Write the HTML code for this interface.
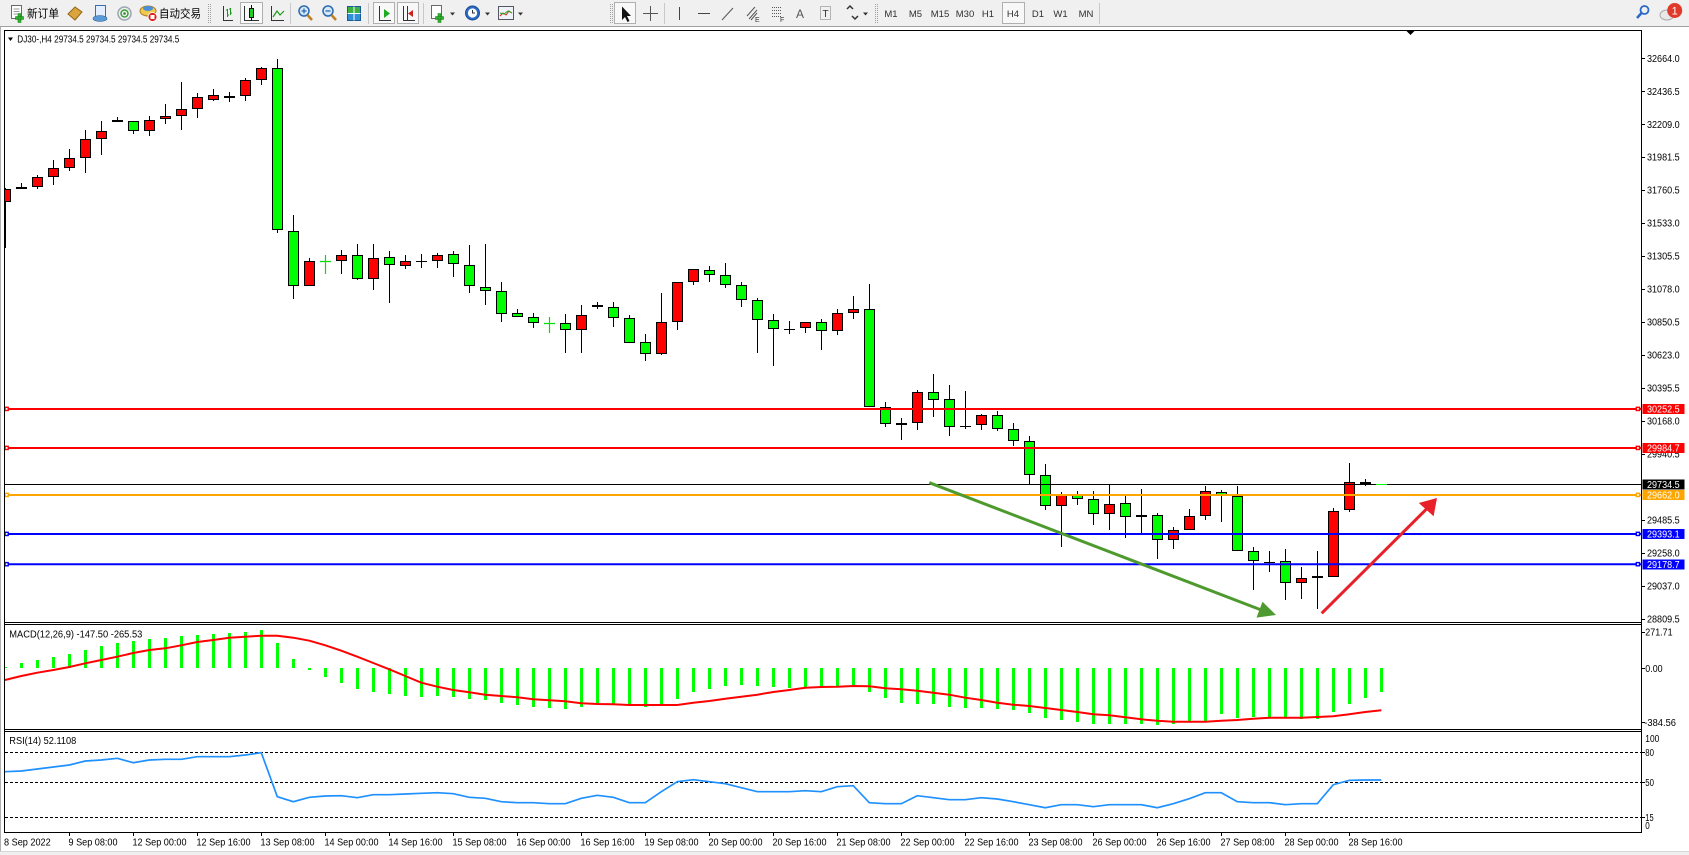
<!DOCTYPE html>
<html><head><meta charset="utf-8"><style>
html,body{margin:0;padding:0;background:#fff;}
svg{display:block;}
text{font-family:"Liberation Sans","Noto Sans CJK SC",sans-serif;}
</style></head><body>
<svg xmlns="http://www.w3.org/2000/svg" width="1689" height="855" viewBox="0 0 1689 855">
<rect x="0" y="0" width="1689" height="855" fill="#fff"/>
<!-- toolbar -->
<rect x="0" y="0" width="1689" height="26.5" fill="#f0f0f0"/>
<line x1="0" y1="26.5" x2="1689" y2="26.5" stroke="#a0a0a0"/>
<!-- new order -->
<rect x="11.5" y="5.5" width="10" height="13" fill="#fff" stroke="#6a6a6a"/>
<path d="M13.5 9h6M13.5 11.5h6M13.5 14h4" stroke="#999"/>
<path d="M15.5 16.5h8v3h-8zM18 13.5h3v9h-3z" fill="#2fb52f" stroke="#1d7d1d" stroke-width=".6"/>
<text x="27" y="17.5" font-size="11.5" textLength="32" lengthAdjust="spacingAndGlyphs" fill="#000" style="font-family:'Noto Sans CJK SC',sans-serif">新订单</text>
<polygon points="68,14 75,7 82,12 75,20" fill="#dba43c" stroke="#946418"/>
<rect x="95.5" y="5.5" width="10" height="11" fill="#e3efff" stroke="#3a6ea8"/>
<ellipse cx="100" cy="18.5" rx="7" ry="3" fill="#5b9bd5" stroke="#2d5f96" stroke-width=".6"/>
<circle cx="124.5" cy="13.5" r="6.5" fill="none" stroke="#9aa5b0" stroke-width="1.5"/>
<circle cx="124.5" cy="13.5" r="3.5" fill="none" stroke="#3aa03a" stroke-width="1.5"/>
<circle cx="124.5" cy="13.5" r="1.3" fill="#2a8a2a"/>
<ellipse cx="148" cy="11" rx="8" ry="5" fill="#f2c94c" stroke="#a6802a"/>
<ellipse cx="148" cy="8.5" rx="5" ry="2.5" fill="#4a8fd8"/>
<circle cx="152.5" cy="17" r="4.5" fill="#e02020" stroke="#fff" stroke-width=".8"/>
<rect x="150.5" y="15" width="4" height="4" fill="#fff"/>
<text x="159" y="17.5" font-size="11.5" textLength="42" lengthAdjust="spacingAndGlyphs" fill="#000" style="font-family:'Noto Sans CJK SC',sans-serif">自动交易</text>
<line x1="208.5" y1="4" x2="208.5" y2="24" stroke="#a0a0a0" stroke-dasharray="1,1"/>
<line x1="210.5" y1="4" x2="210.5" y2="24" stroke="#a0a0a0" stroke-dasharray="1,1"/>
<path d="M223.5 6V20.5H233" stroke="#333" fill="none"/>
<path d="M227.5 9v8M226 10h1.5M227.5 15h1.5M230.5 8v7M229 9h1.5M230.5 13h1.5" stroke="#1a9a1a" fill="none"/>
<rect x="240.5" y="2.5" width="22" height="21" fill="#f8f8f8" stroke="#b0b0b0"/>
<path d="M244.5 6V20.5H259" stroke="#333" fill="none"/>
<line x1="251.5" y1="5" x2="251.5" y2="21" stroke="#111"/>
<rect x="249.5" y="8.5" width="4" height="9" fill="#22cc22" stroke="#111"/>
<path d="M271.5 6V20.5H284" stroke="#333" fill="none"/>
<path d="M273 17L277 11L280 15L284 11" stroke="#1a9a1a" fill="none" stroke-width="1.2"/>
<line x1="290.5" y1="3" x2="290.5" y2="24" stroke="#c8c8c8"/>
<circle cx="304" cy="11" r="5" fill="#d6e8fa" stroke="#2a6ab0" stroke-width="1.5"/>
<path d="M301.5 11h5M304 8.5v5" stroke="#2a6ab0" stroke-width="1.3"/>
<line x1="307.5" y1="15" x2="312" y2="20" stroke="#c08020" stroke-width="2.5"/>
<circle cx="328" cy="11" r="5" fill="#d6e8fa" stroke="#2a6ab0" stroke-width="1.5"/>
<path d="M325.5 11h5" stroke="#2a6ab0" stroke-width="1.3"/>
<line x1="331.5" y1="15" x2="336" y2="20" stroke="#c08020" stroke-width="2.5"/>
<rect x="347.5" y="6.5" width="13" height="14" fill="#2f8fd8" stroke="#1a5a9a"/>
<path d="M348 7h12v6h-12z" fill="#3cb043"/>
<path d="M354 6.5v14M347.5 13.5h13" stroke="#fff"/>
<line x1="368.5" y1="3" x2="368.5" y2="24" stroke="#c8c8c8"/>
<rect x="373.5" y="2.5" width="21" height="21" fill="#f8f8f8" stroke="#b0b0b0"/>
<path d="M379.5 6V20.5H391" stroke="#333" fill="none"/>
<polygon points="384,9 384,18 390,13.5" fill="#22aa22"/>
<rect x="397.5" y="2.5" width="21" height="21" fill="#f8f8f8" stroke="#b0b0b0"/>
<path d="M403.5 6V20.5H415M407.5 6V20" stroke="#333" fill="none"/>
<polygon points="413,10 408,13.5 413,17" fill="#cc2222"/>
<line x1="423.5" y1="3" x2="423.5" y2="24" stroke="#c8c8c8"/>
<rect x="431.5" y="5.5" width="10" height="13" fill="#fff" stroke="#6a6a6a"/>
<path d="M435.5 16.5h8v3h-8zM438 13.5h3v9h-3z" fill="#2fb52f" stroke="#1d7d1d" stroke-width=".6"/>
<polygon points="450,12.5 455,12.5 452.5,15.5" fill="#333"/>
<circle cx="472.5" cy="13" r="7" fill="#2b6cc4" stroke="#1a4a90"/>
<circle cx="472.5" cy="13" r="4.6" fill="#fff"/>
<path d="M472.5 10v3h2.5" stroke="#333" fill="none"/>
<polygon points="485,12.5 490,12.5 487.5,15.5" fill="#333"/>
<rect x="498.5" y="6.5" width="15" height="13" fill="#eef2fa" stroke="#556"/>
<path d="M500 16l3-3 3 2 3-4 3 2" stroke="#d22" fill="none"/>
<path d="M500 13l4 1 4-3 4 2" stroke="#2a2" fill="none"/>
<polygon points="518,12.5 523,12.5 520.5,15.5" fill="#333"/>
<line x1="610.5" y1="4" x2="610.5" y2="24" stroke="#a0a0a0" stroke-dasharray="1,1"/>
<line x1="612.5" y1="4" x2="612.5" y2="24" stroke="#a0a0a0" stroke-dasharray="1,1"/>
<rect x="614.5" y="2.5" width="21" height="21" fill="#f8f8f8" stroke="#b0b0b0"/>
<polygon points="622,6.5 622,20 625,17 627.5,22 629.5,21 627,16 631,16" fill="#111"/>
<path d="M650.5 6v15M643 13.5h15" stroke="#555"/>
<line x1="664.5" y1="3" x2="664.5" y2="24" stroke="#c8c8c8"/>
<line x1="679.5" y1="7" x2="679.5" y2="20" stroke="#444"/>
<line x1="698" y1="13.5" x2="710" y2="13.5" stroke="#444"/>
<line x1="722" y1="20" x2="733" y2="8" stroke="#555"/>
<path d="M747 16l8-9M749 19l8-9M751 20l6-7" stroke="#555" fill="none"/>
<text x="755" y="22" font-size="7" fill="#333">E</text>
<path d="M772 7.5h10M772 10.5h10M772 13.5h10M772 16.5h10" stroke="#555" stroke-dasharray="1,1"/>
<text x="780" y="22" font-size="7" fill="#333">F</text>
<text x="800" y="18" font-size="12" text-anchor="middle" fill="#555">A</text>
<rect x="820.5" y="6.5" width="10" height="13" fill="none" stroke="#777" stroke-dasharray="1,1"/>
<text x="825.5" y="17" font-size="10" text-anchor="middle" fill="#333">T</text>
<path d="M847 9l3-3 3 3M852 16l3 3 3-3" stroke="#333" fill="none" stroke-width="1.5"/>
<polygon points="863,12.5 868,12.5 865.5,15.5" fill="#333"/>
<line x1="875.5" y1="4" x2="875.5" y2="24" stroke="#a0a0a0" stroke-dasharray="1,1"/>
<line x1="877.5" y1="4" x2="877.5" y2="24" stroke="#a0a0a0" stroke-dasharray="1,1"/>
<rect x="1002.5" y="2.5" width="22" height="21" fill="#f8f8f8" stroke="#b0b0b0"/>
<g font-size="9.5" fill="#303030" text-anchor="middle">
<text x="891" y="17">M1</text><text x="915.5" y="17">M5</text><text x="940" y="17">M15</text><text x="965" y="17">M30</text><text x="988" y="17">H1</text><text x="1013" y="17">H4</text><text x="1038" y="17">D1</text><text x="1060.5" y="17">W1</text><text x="1086" y="17">MN</text>
</g>
<line x1="1099.5" y1="3" x2="1099.5" y2="24" stroke="#c8c8c8"/>
<circle cx="1644.5" cy="10" r="4" fill="none" stroke="#2a6ac8" stroke-width="1.8"/>
<line x1="1641.5" y1="13" x2="1637" y2="18" stroke="#2a6ac8" stroke-width="2.5"/>
<ellipse cx="1667" cy="15" rx="7" ry="5" fill="#e8e8e8" stroke="#aaa"/>
<circle cx="1674.7" cy="10.5" r="7.5" fill="#e03a2a"/>
<text x="1674.7" y="14.5" font-size="11" text-anchor="middle" fill="#fff">1</text>

<!-- frame -->
<line x1="0.5" y1="27" x2="0.5" y2="851" stroke="#b0b0b0"/>
<rect x="0" y="851" width="1689" height="4" fill="#f0f0f0"/>
<line x1="0" y1="851.5" x2="1689" y2="851.5" stroke="#d8d8d8"/>

<defs><clipPath id="mc"><rect x="5" y="31" width="1636" height="591"/></clipPath></defs>

<!-- title -->
<polygon points="8,37.5 13,37.5 10.5,41" fill="#000"/>
<text x="17.3" y="42.3" font-size="10" textLength="162" lengthAdjust="spacingAndGlyphs" fill="#000">DJ30-,H4  29734.5 29734.5 29734.5 29734.5</text>
<polygon points="1406,30.5 1415,30.5 1410.5,35" fill="#000"/>

<g clip-path="url(#mc)">
<!-- wicks -->
<path fill="none" stroke="#000" d="M5.5 188V248M21.5 183V189M37.5 175V189M53.5 160V185M69.5 149V171M85.5 130V173M101.5 121V155M117.5 117V122M133.5 121V134M149.5 116V136M165.5 104V124M181.5 82V130M197.5 93V118M213.5 89V101M229.5 92V102M245.5 78V101M261.5 67V85M277.5 59V233M293.5 215V299M309.5 258V286M341.5 250V274M357.5 244V280M373.5 244V290M389.5 251V303M405.5 255V269M421.5 254V268M437.5 253V268M453.5 251V277M469.5 245V293M485.5 244V305M501.5 282V322M517.5 309V317M533.5 313V328M565.5 314V353M581.5 305V353M597.5 302V309M613.5 302V327M629.5 315V343M645.5 334V361M661.5 293V355M677.5 282V330M693.5 269V285M709.5 266V282M725.5 263V288M741.5 282V307M757.5 298V353M773.5 314V366M789.5 321V334M805.5 322V333M821.5 319V350M837.5 309V335M853.5 296V319M869.5 284V407M885.5 402V427M901.5 418V440M917.5 390V430M933.5 374V417M949.5 385V436M965.5 391V429M981.5 414V430M997.5 411V431M1013.5 423V446M1029.5 436V484M1045.5 464V510M1061.5 492V547M1077.5 491V505M1093.5 491V525M1109.5 484V530M1125.5 496V538M1141.5 489V533M1157.5 513V559M1173.5 527V549M1189.5 509V530M1205.5 486V520M1221.5 490V522M1237.5 486V551M1253.5 547V590M1269.5 551V572M1285.5 549V600M1301.5 567V599M1317.5 551V609M1333.5 508V577M1349.5 463V512M1365.5 479V486"/>
<!-- red bodies -->
<path fill="#ff0000" stroke="#000" d="M0.5,189.5h10v12h-10zM16.5,187.5h10v1h-10zM32.5,177.5h10v9h-10zM48.5,168.5h10v8h-10zM64.5,158.5h10v9h-10zM80.5,139.5h10v18h-10zM96.5,131.5h10v7h-10zM144.5,120.5h10v10h-10zM160.5,116.5h10v2h-10zM176.5,109.5h10v6h-10zM192.5,97.5h10v11h-10zM208.5,95.5h10v4h-10zM240.5,80.5h10v15h-10zM256.5,68.5h10v11h-10zM304.5,261.5h10v24h-10zM336.5,255.5h10v5h-10zM368.5,258.5h10v20h-10zM400.5,261.5h10v4h-10zM432.5,255.5h10v5h-10zM576.5,315.5h10v14h-10zM656.5,322.5h10v31h-10zM672.5,282.5h10v39h-10zM688.5,269.5h10v12h-10zM800.5,322.5h10v5h-10zM832.5,313.5h10v17h-10zM848.5,309.5h10v3h-10zM896.5,423.5h10v1h-10zM912.5,392.5h10v30h-10zM976.5,415.5h10v9h-10zM1056.5,495.5h10v10h-10zM1104.5,504.5h10v9h-10zM1136.5,515.5h10v1h-10zM1168.5,530.5h10v9h-10zM1184.5,516.5h10v13h-10zM1200.5,491.5h10v24h-10zM1296.5,578.5h10v4h-10zM1312.5,576.5h10v1h-10zM1328.5,511.5h10v65h-10zM1344.5,482.5h10v27h-10z"/>
<!-- green bodies -->
<path fill="#00ff00" stroke="#000" d="M128.5,121.5h10v9h-10zM272.5,68.5h10v161h-10zM288.5,231.5h10v54h-10zM352.5,255.5h10v23h-10zM384.5,257.5h10v7h-10zM448.5,254.5h10v9h-10zM464.5,265.5h10v20h-10zM480.5,287.5h10v3h-10zM496.5,291.5h10v22h-10zM512.5,313.5h10v3h-10zM528.5,317.5h10v5h-10zM560.5,323.5h10v6h-10zM592.5,305.5h10v1h-10zM608.5,307.5h10v10h-10zM624.5,318.5h10v24h-10zM640.5,342.5h10v11h-10zM704.5,270.5h10v4h-10zM720.5,275.5h10v9h-10zM736.5,285.5h10v14h-10zM752.5,300.5h10v19h-10zM768.5,320.5h10v8h-10zM816.5,322.5h10v8h-10zM864.5,309.5h10v97h-10zM880.5,407.5h10v16h-10zM928.5,392.5h10v7h-10zM944.5,399.5h10v27h-10zM992.5,415.5h10v13h-10zM1008.5,429.5h10v11h-10zM1024.5,441.5h10v33h-10zM1040.5,475.5h10v30h-10zM1072.5,495.5h10v3h-10zM1088.5,499.5h10v14h-10zM1120.5,503.5h10v13h-10zM1152.5,515.5h10v24h-10zM1216.5,492.5h10v3h-10zM1232.5,496.5h10v54h-10zM1248.5,551.5h10v9h-10zM1280.5,561.5h10v21h-10zM1360.5,482.5h10v1h-10z"/>
<!-- doji -->
<path stroke="#000" stroke-width="2" d="M112 121h11M224 97h11"/>
<path stroke="#000" d="M416 261.5h11M784 329.5h11M960 426.5h11M1264 562.5h11"/>
<path stroke="#00e000" stroke-width="1.2" d="M320 261.5h11M325.5 255V274M544 323.5h11M549.5 317V333"/>

<!-- horizontal lines -->
<line x1="5" y1="484.5" x2="1641" y2="484.5" stroke="#000"/>
<line x1="1376" y1="484.5" x2="1387" y2="484.5" stroke="#00ff00"/>
<line x1="5" y1="409" x2="1641" y2="409" stroke="#ff0000" stroke-width="2"/>
<line x1="5" y1="448" x2="1641" y2="448" stroke="#ff0000" stroke-width="2"/>
<line x1="5" y1="495" x2="1641" y2="495" stroke="#ffa500" stroke-width="2"/>
<line x1="5" y1="534" x2="1641" y2="534" stroke="#0000ff" stroke-width="2"/>
<line x1="5" y1="564.3" x2="1641" y2="564.3" stroke="#0000ff" stroke-width="2"/>
<g fill="#fff" stroke-width="1.4">
<rect x="5" y="407.3" width="3.2" height="3.2" stroke="#ff0000"/><rect x="1636.3" y="407.3" width="3.2" height="3.2" stroke="#ff0000"/>
<rect x="5" y="446.3" width="3.2" height="3.2" stroke="#ff0000"/><rect x="1636.3" y="446.3" width="3.2" height="3.2" stroke="#ff0000"/>
<rect x="5" y="493.3" width="3.2" height="3.2" stroke="#ffa500"/><rect x="1636.3" y="493.3" width="3.2" height="3.2" stroke="#ffa500"/>
<rect x="5" y="532.3" width="3.2" height="3.2" stroke="#0000ff"/><rect x="1636.3" y="532.3" width="3.2" height="3.2" stroke="#0000ff"/>
<rect x="5" y="562.6" width="3.2" height="3.2" stroke="#0000ff"/><rect x="1636.3" y="562.6" width="3.2" height="3.2" stroke="#0000ff"/>
</g>
<!-- arrows -->
<line x1="929.3" y1="482.7" x2="1260" y2="609.5" stroke="#4e9a2e" stroke-width="3"/>
<polygon points="1276,615 1262.5,601.8 1256.5,617.6" fill="#4e9a2e"/>
<line x1="1321.7" y1="613.3" x2="1427" y2="508.5" stroke="#e8202a" stroke-width="3"/>
<polygon points="1437,498 1418.8,503 1433.6,516.2" fill="#e8202a"/>
</g>

<!-- MACD histogram -->
<path fill="#00ff00" d="M4 667h3v1h-3zM20 663h3v5h-3zM36 660h3v8h-3zM52 657h3v11h-3zM68 654h3v14h-3zM84 650h3v18h-3zM100 646h3v22h-3zM116 643h3v25h-3zM132 641h3v27h-3zM148 639h3v29h-3zM164 638h3v30h-3zM180 636h3v32h-3zM196 635h3v33h-3zM212 634h3v34h-3zM228 633h3v35h-3zM244 632h3v36h-3zM260 630h3v38h-3zM276 643h3v25h-3zM292 659h3v9h-3zM308 668h3v2h-3zM324 668h3v9h-3zM340 668h3v15h-3zM356 668h3v21h-3zM372 668h3v24h-3zM388 668h3v26h-3zM404 668h3v28h-3zM420 668h3v29h-3zM436 668h3v28h-3zM452 668h3v29h-3zM468 668h3v31h-3zM484 668h3v32h-3zM500 668h3v35h-3zM516 668h3v37h-3zM532 668h3v39h-3zM548 668h3v40h-3zM564 668h3v41h-3zM580 668h3v39h-3zM596 668h3v36h-3zM612 668h3v36h-3zM628 668h3v36h-3zM644 668h3v39h-3zM660 668h3v36h-3zM676 668h3v31h-3zM692 668h3v24h-3zM708 668h3v21h-3zM724 668h3v18h-3zM740 668h3v17h-3zM756 668h3v18h-3zM772 668h3v19h-3zM788 668h3v20h-3zM804 668h3v19h-3zM820 668h3v19h-3zM836 668h3v18h-3zM852 668h3v17h-3zM868 668h3v24h-3zM884 668h3v30h-3zM900 668h3v35h-3zM916 668h3v36h-3zM932 668h3v36h-3zM948 668h3v39h-3zM964 668h3v40h-3zM980 668h3v40h-3zM996 668h3v41h-3zM1012 668h3v42h-3zM1028 668h3v45h-3zM1044 668h3v50h-3zM1060 668h3v52h-3zM1076 668h3v54h-3zM1092 668h3v56h-3zM1108 668h3v56h-3zM1124 668h3v56h-3zM1140 668h3v56h-3zM1156 668h3v57h-3zM1172 668h3v56h-3zM1188 668h3v54h-3zM1204 668h3v53h-3zM1220 668h3v46h-3zM1236 668h3v50h-3zM1252 668h3v49h-3zM1268 668h3v49h-3zM1284 668h3v50h-3zM1300 668h3v51h-3zM1316 668h3v51h-3zM1332 668h3v44h-3zM1348 668h3v36h-3zM1364 668h3v30h-3zM1380 668h3v24h-3z"/>
<polyline fill="none" stroke="#ff0000" stroke-width="2" points="5,680 21.3,676 37.3,672.7 53.3,670 69.3,667 85.3,663.3 101.3,660 117.3,656.7 133.3,653 149.3,650 165.3,648.3 181.3,645.3 197.3,642 213.3,640 229.3,637.7 245.3,636.7 261.3,635.7 277.3,635.7 293.3,637.7 309.3,640.7 325.3,645.3 341.3,650.7 357.3,656.7 373.3,663 389.3,669.3 405.3,676 421.3,682.7 437.3,686.7 453.3,690 469.3,692.3 485.3,694.7 501.3,696 517.3,697.3 533.3,699.3 549.3,700.3 565.3,701.3 581.3,703.3 597.3,704 613.3,704.3 629.3,705 645.3,705 661.3,705 677.3,705 693.3,702.7 709.3,701 725.3,698.7 741.3,696.7 757.3,694.7 773.3,692 789.3,690 805.3,687.7 821.3,687 837.3,686.7 853.3,686 869.3,686.3 885.3,688.3 901.3,689.3 917.3,690.7 933.3,692.7 949.3,694.7 965.3,697.7 981.3,700 997.3,702.7 1013.3,704.7 1029.3,706 1045.3,708 1061.3,710 1077.3,712 1093.3,714.3 1109.3,715.3 1125.3,717.3 1141.3,719.3 1157.3,720.7 1173.3,721.7 1189.3,721.7 1205.3,721.7 1221.3,720.7 1237.3,720 1253.3,718.7 1269.3,717.7 1285.3,717.7 1301.3,717.7 1317.3,717 1333.3,716.3 1349.3,714.3 1365.3,712 1381.3,710.3"/>
<text x="9.3" y="637.5" font-size="10" textLength="133" lengthAdjust="spacingAndGlyphs" fill="#000">MACD(12,26,9) -147.50 -265.53</text>

<!-- RSI -->
<g stroke="#000" stroke-dasharray="3,2">
<line x1="5" y1="752.5" x2="1641" y2="752.5"/>
<line x1="5" y1="782.5" x2="1641" y2="782.5"/>
<line x1="5" y1="817.5" x2="1641" y2="817.5"/>
</g>
<polyline fill="none" stroke="#1e90ff" stroke-width="1.7" points="5,771.7 21.3,771 37.3,769 53.3,767 69.3,765 85.3,761 101.3,760 117.3,758.3 133.3,762.7 149.3,760 165.3,759.3 181.3,759.3 197.3,756.7 213.3,756.7 229.3,756.7 245.3,755 261.3,752.7 277.3,796.7 293.3,801.7 309.3,797.3 325.3,796 341.3,795.7 357.3,797.7 373.3,794.7 389.3,794.7 405.3,794 421.3,793.3 437.3,792.7 453.3,793.7 469.3,797.3 485.3,798.3 501.3,801.7 517.3,802.7 533.3,802.7 549.3,803.7 565.3,803.7 581.3,798.3 597.3,795.3 613.3,797.3 629.3,802.7 645.3,802.7 661.3,791.7 677.3,781.7 693.3,779.7 709.3,781.7 725.3,783.7 741.3,787.7 757.3,791.7 773.3,791.7 789.3,791.7 805.3,790.7 821.3,791.7 837.3,786.7 853.3,785.7 869.3,802.7 885.3,803.7 901.3,803.7 917.3,795.7 933.3,797.7 949.3,799.7 965.3,799.7 981.3,797.7 997.3,799 1013.3,801.7 1029.3,804.7 1045.3,807.7 1061.3,804.7 1077.3,804.7 1093.3,806.7 1109.3,804.7 1125.3,804.7 1141.3,804.7 1157.3,807.7 1173.3,803.7 1189.3,798.7 1205.3,792.7 1221.3,792.7 1237.3,801.7 1253.3,802.7 1269.3,802.7 1285.3,804.7 1301.3,803.7 1317.3,803.7 1333.3,784.7 1349.3,780.3 1365.3,780 1381.3,780"/>
<text x="9.3" y="744.2" font-size="10" textLength="67" lengthAdjust="spacingAndGlyphs" fill="#000">RSI(14) 52.1108</text>

<!-- panel borders -->
<g stroke="#000" fill="none">
<line x1="4" y1="30.5" x2="1642" y2="30.5"/>
<line x1="4" y1="622.5" x2="1642" y2="622.5"/>
<line x1="4" y1="624.5" x2="1642" y2="624.5"/>
<line x1="4" y1="729.5" x2="1642" y2="729.5"/>
<line x1="4" y1="731.5" x2="1642" y2="731.5"/>
<line x1="4" y1="832.5" x2="1642" y2="832.5"/>
<line x1="4.5" y1="30" x2="4.5" y2="833"/>
<line x1="1641.5" y1="30" x2="1641.5" y2="833"/>
</g>

<!-- price axis ticks -->
<path stroke="#000" d="M1642 58.5h3M1642 91.5h3M1642 124.5h3M1642 157.5h3M1642 190.5h3M1642 223.5h3M1642 256.5h3M1642 289.5h3M1642 322.5h3M1642 355.5h3M1642 388.5h3M1642 421.5h3M1642 454.5h3M1642 520.5h3M1642 553.5h3M1642 586.5h3M1642 619.5h3M1642 632.5h3M1642 668.5h3M1642 722.5h3M1642 752.5h3M1642 782.5h3M1642 817.5h3"/>
<g font-size="10" fill="#000">
<text x="1647" y="61.8" textLength="32.7" lengthAdjust="spacingAndGlyphs">32664.0</text>
<text x="1647" y="94.8" textLength="32.7" lengthAdjust="spacingAndGlyphs">32436.5</text>
<text x="1647" y="127.8" textLength="32.7" lengthAdjust="spacingAndGlyphs">32209.0</text>
<text x="1647" y="160.7" textLength="32.7" lengthAdjust="spacingAndGlyphs">31981.5</text>
<text x="1647" y="193.7" textLength="32.7" lengthAdjust="spacingAndGlyphs">31760.5</text>
<text x="1647" y="226.7" textLength="32.7" lengthAdjust="spacingAndGlyphs">31533.0</text>
<text x="1647" y="259.7" textLength="32.7" lengthAdjust="spacingAndGlyphs">31305.5</text>
<text x="1647" y="292.7" textLength="32.7" lengthAdjust="spacingAndGlyphs">31078.0</text>
<text x="1647" y="325.6" textLength="32.7" lengthAdjust="spacingAndGlyphs">30850.5</text>
<text x="1647" y="358.6" textLength="32.7" lengthAdjust="spacingAndGlyphs">30623.0</text>
<text x="1647" y="391.6" textLength="32.7" lengthAdjust="spacingAndGlyphs">30395.5</text>
<text x="1647" y="424.6" textLength="32.7" lengthAdjust="spacingAndGlyphs">30168.0</text>
<text x="1647" y="457.6" textLength="32.7" lengthAdjust="spacingAndGlyphs">29940.5</text>
<text x="1647" y="523.5" textLength="32.7" lengthAdjust="spacingAndGlyphs">29485.5</text>
<text x="1647" y="556.5" textLength="32.7" lengthAdjust="spacingAndGlyphs">29258.0</text>
<text x="1647" y="589.5" textLength="32.7" lengthAdjust="spacingAndGlyphs">29037.0</text>
<text x="1647" y="622.5" textLength="32.7" lengthAdjust="spacingAndGlyphs">28809.5</text>
<text x="1645.3" y="635.5" textLength="27.3" lengthAdjust="spacingAndGlyphs">271.71</text>
<text x="1645.3" y="672.2" textLength="17.3" lengthAdjust="spacingAndGlyphs">0.00</text>
<text x="1644.3" y="726.2" textLength="31.7" lengthAdjust="spacingAndGlyphs">-384.56</text>
<text x="1645.3" y="741.8" textLength="14" lengthAdjust="spacingAndGlyphs">100</text>
<text x="1645.3" y="756.2" textLength="8.7" lengthAdjust="spacingAndGlyphs">80</text>
<text x="1645.3" y="786.2" textLength="8.7" lengthAdjust="spacingAndGlyphs">50</text>
<text x="1645.3" y="820.8" textLength="8.3" lengthAdjust="spacingAndGlyphs">15</text>
<text x="1645.3" y="828.8" textLength="4.5" lengthAdjust="spacingAndGlyphs">0</text>
</g>
<!-- price tags -->
<rect x="1642.5" y="404" width="42" height="10" fill="#ff0000"/>
<rect x="1642.5" y="443" width="42" height="10" fill="#ff0000"/>
<rect x="1642.5" y="479.5" width="42" height="10" fill="#000"/>
<rect x="1642.5" y="490" width="42" height="10" fill="#ffa500"/>
<rect x="1642.5" y="529" width="42" height="10" fill="#0000ff"/>
<rect x="1642.5" y="559.5" width="42" height="10" fill="#0000ff"/>
<g font-size="10" fill="#fff">
<text x="1647" y="412.5" textLength="32.7" lengthAdjust="spacingAndGlyphs">30252.5</text>
<text x="1647" y="451.5" textLength="32.7" lengthAdjust="spacingAndGlyphs">29984.7</text>
<text x="1647" y="488" textLength="32.7" lengthAdjust="spacingAndGlyphs">29734.5</text>
<text x="1647" y="498.5" textLength="32.7" lengthAdjust="spacingAndGlyphs">29662.0</text>
<text x="1647" y="537.5" textLength="32.7" lengthAdjust="spacingAndGlyphs">29393.1</text>
<text x="1647" y="568" textLength="32.7" lengthAdjust="spacingAndGlyphs">29178.7</text>
</g>

<!-- time axis -->
<path stroke="#000" d="M69.5 832v4M133.5 832v4M197.5 832v4M261.5 832v4M325.5 832v4M389.5 832v4M453.5 832v4M517.5 832v4M581.5 832v4M645.5 832v4M709.5 832v4M773.5 832v4M837.5 832v4M901.5 832v4M965.5 832v4M1029.5 832v4M1093.5 832v4M1157.5 832v4M1221.5 832v4M1285.5 832v4M1349.5 832v4"/>
<g font-size="10" fill="#000">
<text x="4" y="845.3" textLength="46.7" lengthAdjust="spacingAndGlyphs">8 Sep 2022</text>
<text x="68.5" y="845.3" textLength="49" lengthAdjust="spacingAndGlyphs">9 Sep 08:00</text>
<text x="132.5" y="845.3" textLength="54" lengthAdjust="spacingAndGlyphs">12 Sep 00:00</text>
<text x="196.5" y="845.3" textLength="54" lengthAdjust="spacingAndGlyphs">12 Sep 16:00</text>
<text x="260.5" y="845.3" textLength="54" lengthAdjust="spacingAndGlyphs">13 Sep 08:00</text>
<text x="324.5" y="845.3" textLength="54" lengthAdjust="spacingAndGlyphs">14 Sep 00:00</text>
<text x="388.5" y="845.3" textLength="54" lengthAdjust="spacingAndGlyphs">14 Sep 16:00</text>
<text x="452.5" y="845.3" textLength="54" lengthAdjust="spacingAndGlyphs">15 Sep 08:00</text>
<text x="516.5" y="845.3" textLength="54" lengthAdjust="spacingAndGlyphs">16 Sep 00:00</text>
<text x="580.5" y="845.3" textLength="54" lengthAdjust="spacingAndGlyphs">16 Sep 16:00</text>
<text x="644.5" y="845.3" textLength="54" lengthAdjust="spacingAndGlyphs">19 Sep 08:00</text>
<text x="708.5" y="845.3" textLength="54" lengthAdjust="spacingAndGlyphs">20 Sep 00:00</text>
<text x="772.5" y="845.3" textLength="54" lengthAdjust="spacingAndGlyphs">20 Sep 16:00</text>
<text x="836.5" y="845.3" textLength="54" lengthAdjust="spacingAndGlyphs">21 Sep 08:00</text>
<text x="900.5" y="845.3" textLength="54" lengthAdjust="spacingAndGlyphs">22 Sep 00:00</text>
<text x="964.5" y="845.3" textLength="54" lengthAdjust="spacingAndGlyphs">22 Sep 16:00</text>
<text x="1028.5" y="845.3" textLength="54" lengthAdjust="spacingAndGlyphs">23 Sep 08:00</text>
<text x="1092.5" y="845.3" textLength="54" lengthAdjust="spacingAndGlyphs">26 Sep 00:00</text>
<text x="1156.5" y="845.3" textLength="54" lengthAdjust="spacingAndGlyphs">26 Sep 16:00</text>
<text x="1220.5" y="845.3" textLength="54" lengthAdjust="spacingAndGlyphs">27 Sep 08:00</text>
<text x="1284.5" y="845.3" textLength="54" lengthAdjust="spacingAndGlyphs">28 Sep 00:00</text>
<text x="1348.5" y="845.3" textLength="54" lengthAdjust="spacingAndGlyphs">28 Sep 16:00</text>
</g>
</svg>
</body></html>
